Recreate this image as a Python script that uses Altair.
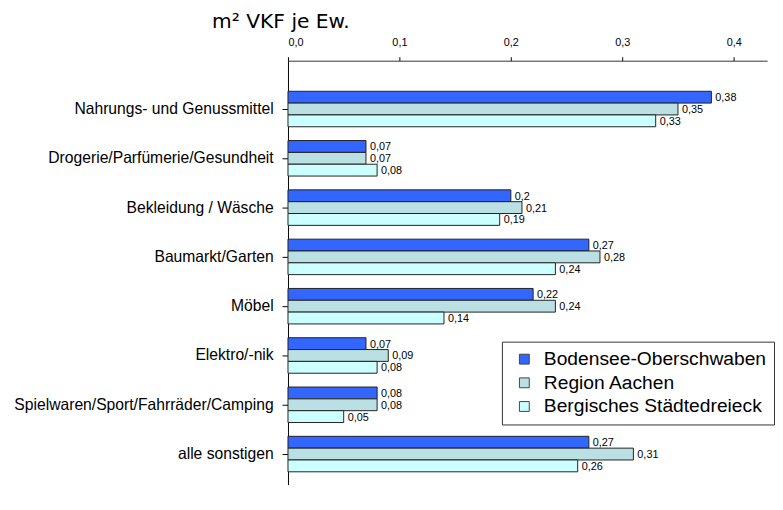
import altair as alt
import pandas as pd

categories = ["Nahrungs- und Genussmittel", "Drogerie/Parfümerie/Gesundheit", "Bekleidung / Wäsche",
              "Baumarkt/Garten", "Möbel", "Elektro/-nik", "Spielwaren/Sport/Fahrräder/Camping", "alle sonstigen"]
series = ["Bodensee-Oberschwaben", "Region Aachen", "Bergisches Städtedreieck"]
bodensee = [0.38, 0.07, 0.20, 0.27, 0.22, 0.07, 0.08, 0.27]
aachen = [0.35, 0.07, 0.21, 0.28, 0.24, 0.09, 0.08, 0.31]
bergisch = [0.33, 0.08, 0.19, 0.24, 0.14, 0.08, 0.05, 0.26]
colors = ["#3366FF", "#BBE0E3", "#CCFFFF"]

rows = []
for vals, s in zip([bodensee, aachen, bergisch], series):
    for c, v in zip(categories, vals):
        rows.append({"cat": c, "series": s, "value": v,
                     "label": ("%g" % v).replace(".", ",")})
df = pd.DataFrame(rows)

FONT = "Liberation Sans"

y = alt.Y("cat:N", sort=categories, title=None,
          scale=alt.Scale(paddingInner=0.28, paddingOuter=0.44, align=0.705),
          axis=alt.Axis(labelFont=FONT, labelFontSize=15.9, labelColor="#000", tickColor="#000",
                        domainColor="#000", tickSize=6, labelPadding=9, labelLimit=400))
x = alt.X("value:Q", title=None,
          scale=alt.Scale(domain=[0, 0.43], nice=False),
          axis=alt.Axis(orient="top", values=[0, 0.1, 0.2, 0.3, 0.4],
                        labelExpr="replace(format(datum.value, '.1f'), '.', ',')",
                        labelFont=FONT, labelFontSize=11, labelColor="#000",
                        tickColor="#000", domainColor="#333", tickSize=4, labelPadding=9,
                        grid=False))
yoff = alt.YOffset("series:N", sort=series)

bars = alt.Chart(df).mark_bar(stroke="#222", strokeWidth=1).encode(
    x=x, y=y, yOffset=yoff,
    color=alt.Color("series:N", sort=series, title=None,
                    scale=alt.Scale(domain=series, range=colors),
                    legend=alt.Legend(orient="none", legendX=217, legendY=285,
                                      labelFont=FONT, labelFontSize=19.5, labelColor="#000",
                                      symbolType="square", symbolSize=100, symbolStrokeColor="#444",
                                      symbolStrokeWidth=1, strokeColor="#333", fillColor="#fff",
                                      padding=8, rowPadding=3, symbolOffset=5, labelOffset=10,
                                      labelLimit=400))
)
texts = alt.Chart(df).mark_text(align="left", baseline="middle", dx=4, dy=1,
                                font=FONT, fontSize=11, color="#000").encode(
    x="value:Q", y=alt.Y("cat:N", sort=categories), yOffset=yoff, text="label:N")

chart = (bars + texts).properties(
    width=486, height=430,
    padding={"left": 5, "top": 0, "right": 0, "bottom": 0},
    title=alt.TitleParams("m² VKF je Ew.", anchor="start", frame="group", dx=-77, font="DejaVu Sans",
                          fontSize=20.5, fontWeight="normal", color="#000", offset=5)
).configure_view(stroke=None)

chart.save("out.html", embed_options={"renderer": "svg", "actions": False})
